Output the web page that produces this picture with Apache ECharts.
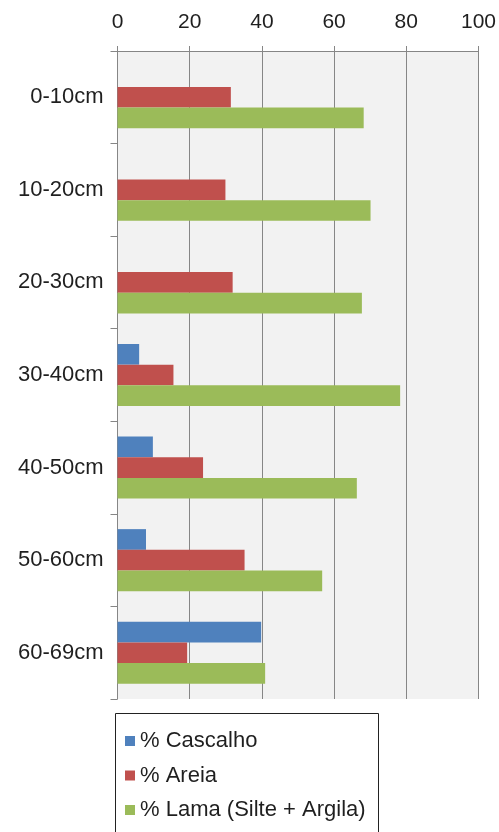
<!DOCTYPE html>
<html>
<head>
<meta charset="utf-8">
<script src="https://cdn.jsdelivr.net/npm/echarts@6/dist/echarts.min.js"></script>
<style>
  html, body { margin: 0; padding: 0; background: #fff; }
  #chart { width: 499px; height: 832px; }
</style>
</head>
<body>
<div id="chart"></div>
<script>
// profundidades (de cima para baixo)
const categorias = ['0-10cm', '10-20cm', '20-30cm', '30-40cm', '40-50cm', '50-60cm', '60-69cm'];
const cascalho = [0, 0, 0, 6.0, 9.8, 7.9, 39.8];
const areia = [31.4, 29.9, 31.9, 15.5, 23.7, 35.2, 19.3];
const lama = [68.2, 70.1, 67.7, 78.3, 66.3, 56.7, 40.9];
const nomes = ['% Cascalho', '% Areia', '% Lama (Silte + Argila)'];
const ticksX = [0, 20, 40, 60, 80, 100];

const FONT = '"Liberation Sans", Arial, sans-serif';
const TXT = '#1f1f1f';
const GRID = '#868686';

const chart = echarts.init(document.getElementById('chart'));

const mkSerie = (name, data, color) => ({
  name,
  type: 'bar',
  data,
  barGap: 0,
  barCategoryGap: '33%',
  itemStyle: { color },
  silent: true
});

chart.setOption({
  animation: false,
  textStyle: { fontFamily: FONT },
  grid: {
    left: 117.5, right: 16, top: 51, bottom: 133,
    show: true, backgroundColor: '#f2f2f2', borderWidth: 0
  },
  xAxis: {
    type: 'value',
    position: 'top',
    min: ticksX[0], max: ticksX[ticksX.length - 1], interval: 20,
    axisLine: { show: true, lineStyle: { color: GRID, width: 1 } },
    axisTick: { show: true, length: 5, lineStyle: { color: GRID } },
    axisLabel: { color: TXT, fontSize: 21, margin: 18, fontFamily: FONT },
    splitLine: { show: true, lineStyle: { color: GRID, width: 1 } }
  },
  yAxis: {
    type: 'category',
    data: categorias,
    inverse: true,
    axisLine: { show: true, lineStyle: { color: GRID, width: 1 } },
    axisTick: { show: true, length: 7, lineStyle: { color: GRID } },
    axisLabel: { color: TXT, fontSize: 22, margin: 14, fontFamily: FONT },
    splitLine: { show: false }
  },
  legend: {
    orient: 'vertical',
    left: 125, top: 730,
    padding: 0,
    itemWidth: 10, itemHeight: 10,
    itemGap: 12.5,
    icon: 'rect',
    selectedMode: false,
    textStyle: { color: TXT, fontSize: 22, lineHeight: 22, fontFamily: FONT },
    data: nomes
  },
  graphic: [{
    type: 'rect',
    z: -1,
    shape: { x: 115.5, y: 713.5, width: 263, height: 130 },
    style: { fill: '#fff', stroke: '#222', lineWidth: 1 }
  }],
  series: [
    mkSerie(nomes[0], cascalho, '#4f81bd'),
    mkSerie(nomes[1], areia, '#c0504d'),
    mkSerie(nomes[2], lama, '#9bbb59')
  ]
});

window.addEventListener('resize', () => chart.resize());
</script>
</body>
</html>
